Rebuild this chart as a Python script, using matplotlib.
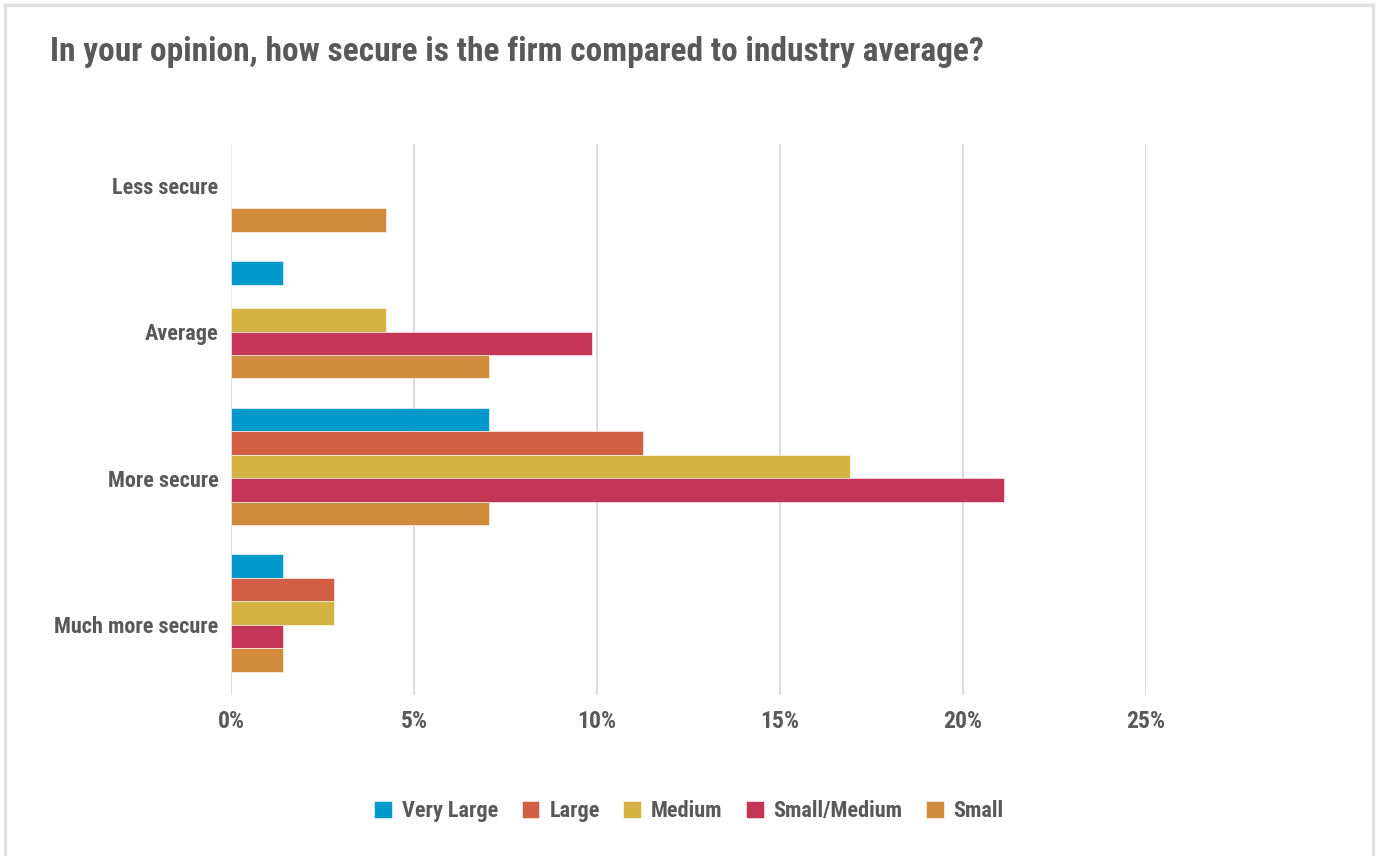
import numpy as np
import matplotlib.pyplot as plt
from matplotlib import font_manager as fm
from matplotlib.lines import Line2D

# narrow bold face if one is around, else plain Roboto
fonts = fm.fontManager.ttflist
names = {f.name for f in fonts}
STRETCH = 'normal'
FAMILY = 'Roboto' if 'Roboto' in names else 'DejaVu Sans'
for cand in ['Roboto Condensed', 'Liberation Sans Narrow', 'Open Sans Condensed']:
    if cand in names:
        FAMILY = cand
        break
else:
    if any(f.name == 'DejaVu Sans' and f.stretch == 'condensed' for f in fonts):
        FAMILY, STRETCH = 'DejaVu Sans', 'condensed'
plt.rcParams['font.family'] = [FAMILY, 'DejaVu Sans']
plt.rcParams['font.stretch'] = STRETCH
TXT = '#595959'

categories = ['Less secure', 'Average', 'More secure', 'Much more secure']
series = ['Very Large', 'Large', 'Medium', 'Small/Medium', 'Small']
colors = ['#0099CB', '#D25E45', '#D4B243', '#C53556', '#D28A3D']

# share of respondents (%), one list per firm size, in category order
very_large = [0.00, 1.41, 7.04, 1.41]
large = [0.00, 0.00, 11.27, 2.82]
medium = [0.00, 4.23, 16.90, 2.82]
small_medium = [0.00, 9.86, 21.13, 1.41]
small = [4.23, 7.04, 7.04, 1.41]
values = [very_large, large, medium, small_medium, small]

fig = plt.figure(figsize=(13.77, 8.56), dpi=100)
ax = fig.add_axes([231/1377, 161/856, 915/1377, 551/856])

# six slots per category, last one left empty
h = 0.16
y = np.arange(len(categories))
for i, (name, vals, c) in enumerate(zip(series, values, colors)):
    ax.barh(y - 3*h + (i + 0.5)*h, vals, height=h, color=c, label=name,
            edgecolor='white', linewidth=0.4, zorder=3)

ax.set_xlim(0, 25)
ax.set_ylim(3.48, -0.28)
ax.set_xticks(np.arange(0, 26, 5))
ax.set_xticklabels([f'{v}%' for v in range(0, 26, 5)])
ax.set_yticks(y)
ax.set_yticklabels(categories)
ax.tick_params(axis='both', length=0, labelsize=16, labelcolor=TXT)
ax.tick_params(axis='x', pad=11, labelsize=17)
ax.tick_params(axis='y', pad=9)
for lab in ax.get_xticklabels() + ax.get_yticklabels():
    lab.set_fontweight('bold')
ax.grid(axis='x', color='#d4d4d4', linewidth=1.2, zorder=0)
for s in ax.spines.values():
    s.set_visible(False)

fig.text(50/1377, 1 - 52/856, 'In your opinion, how secure is the firm compared to industry average?',
         fontsize=24, fontweight='bold', color=TXT, va='center', ha='left')

leg = fig.legend(loc='center', bbox_to_anchor=(689/1377, 1 - 811/856), ncol=5,
                 frameon=False, fontsize=16, handlelength=0.8, handleheight=0.8,
                 handletextpad=0.45, columnspacing=1.05)
for t in leg.get_texts():
    t.set_color(TXT)
    t.set_fontweight('bold')

# light frame round the chart
fc = '#e0e0e0'
fig.add_artist(Line2D([5/1377, 5/1377], [0, 1 - 5/856], color=fc, lw=2.5,
                      transform=fig.transFigure))
fig.add_artist(Line2D([5/1377, 1373/1377], [1 - 5/856, 1 - 5/856], color=fc, lw=2.5,
                      transform=fig.transFigure))
fig.add_artist(Line2D([1373/1377, 1373/1377], [0, 1 - 5/856], color=fc, lw=2.5,
                      transform=fig.transFigure))

fig.savefig('out.png', dpi=100)
